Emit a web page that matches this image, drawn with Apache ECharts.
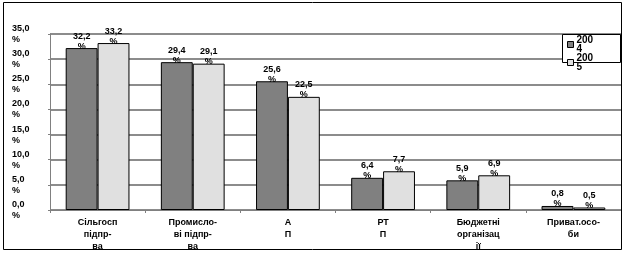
<!DOCTYPE html>
<html><head><meta charset="utf-8">
<script src="https://cdn.jsdelivr.net/npm/echarts@6/dist/echarts.min.js"></script>
<style>html,body{margin:0;padding:0;background:#fff}#c{width:625px;height:254px}</style>
</head><body><div id="c"></div>
<script>
var categories = ['Сільгосп\nпідпр-\nва', 'Промисло-\nві підпр-\nва', 'А\nП', 'РТ\nП', 'Бюджетні\nорганізац\nії', 'Приват.осо-\nби'];
var seriesNames = ['2004', '2005'];
var values2004 = [32.2, 29.4, 25.6, 6.4, 5.9, 0.8];
var values2005 = [33.2, 29.1, 22.5, 7.7, 6.9, 0.5];
var yTicks = [0, 5, 10, 15, 20, 25, 30, 35];

var fnt = 'Liberation Sans';
function fmt(v){ return v.toFixed(1).replace('.', ',') + '\n%'; }
var chart = echarts.init(document.getElementById('c'));
var labelCfg = {
  show: true, position: 'top', distance: -3,
  formatter: function(p){ return fmt(p.value); },
  fontFamily: fnt, fontSize: 9, fontWeight: 'bold', color: '#000', lineHeight: 10
};
chart.setOption({
  animation: false,
  graphic: [
    {type: 'rect', shape: {x: 3.5, y: 2.5, width: 618, height: 247}, style: {fill: 'none', stroke: '#000', lineWidth: 1}, z: 100},
    {type: 'rect', shape: {x: 562.5, y: 34.5, width: 58, height: 28}, style: {fill: '#fff', stroke: '#000', lineWidth: 1}, z: 3}
  ],
  grid: {left: 50, right: 4, top: 34, bottom: 44},
  legend: {
    data: seriesNames, orient: 'vertical', left: 567, top: 35, z: 5,
    padding: 0, itemWidth: 6, itemHeight: 6, itemGap: -1, icon: 'rect',
    itemStyle: {borderColor: '#000', borderWidth: 1},
    textStyle: {fontFamily: fnt, fontSize: 10, fontWeight: 'bold', color: '#000', width: 18, overflow: 'breakAll', lineHeight: 9, padding: [0,0,0,-2]}
  },
  xAxis: {
    type: 'category', data: categories,
    axisLine: {lineStyle: {color: '#808080', width: 1}},
    axisTick: {show: true, length: 3, lineStyle: {color: '#808080'}},
    axisLabel: {interval: 0, fontFamily: fnt, fontSize: 9, fontWeight: 'bold', color: '#000', lineHeight: 12, margin: 7, verticalAlign: 'top'}
  },
  yAxis: {
    type: 'value', min: yTicks[0], max: yTicks[yTicks.length-1], interval: 5,
    axisLine: {show: true, lineStyle: {color: '#808080'}},
    axisTick: {show: true, length: 2, lineStyle: {color: '#808080'}},
    splitLine: {lineStyle: {color: '#8c8c8c', width: 2}},
    axisLabel: {align: 'left', margin: 38, fontFamily: fnt, fontSize: 9, fontWeight: 'bold', color: '#000', lineHeight: 11,
      formatter: function(v){ return v.toFixed(1).replace('.', ',') + '\n%'; }}
  },
  series: [
    {name: seriesNames[0], type: 'bar', data: values2004, barGap: '0%', barCategoryGap: '33%',
     itemStyle: {color: '#808080', borderColor: '#000', borderWidth: 1}, label: labelCfg},
    {name: seriesNames[1], type: 'bar', data: values2005,
     itemStyle: {color: '#e0e0e0', borderColor: '#000', borderWidth: 1}, label: labelCfg}
  ]
});
</script></body></html>
